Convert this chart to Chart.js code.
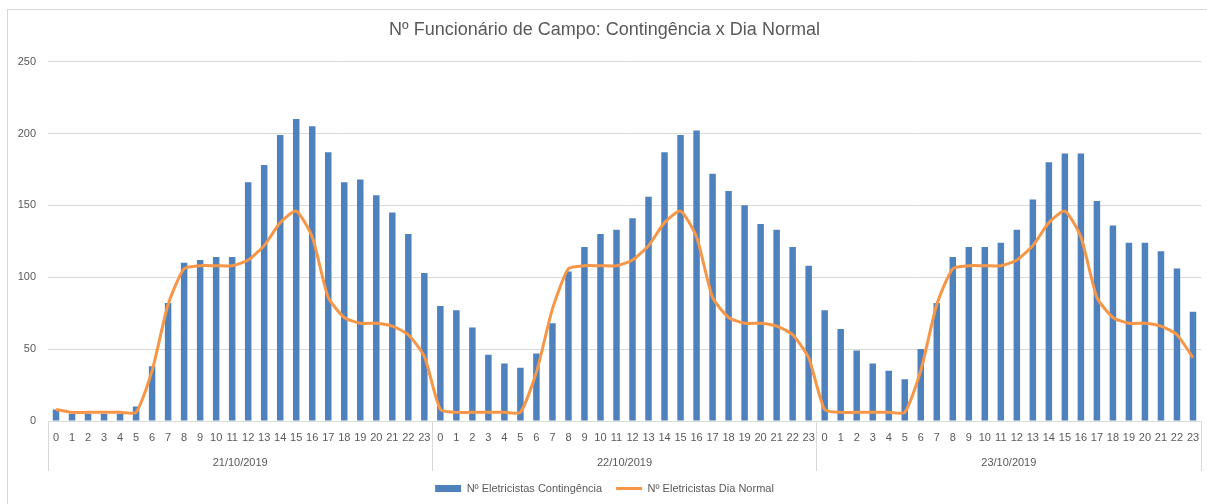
<!DOCTYPE html>
<html>
<head>
<meta charset="utf-8">
<script src="https://cdn.jsdelivr.net/npm/chart.js@4"></script>
<style>
  html, body { margin: 0; padding: 0; background: #ffffff; overflow: hidden; }
  #wrap { position: relative; width: 1207px; height: 504px; }
  #frame { position: absolute; left: 7px; top: 9px; width: 1220px; height: 520px; border: 1px solid #d9d9d9; box-sizing: border-box; pointer-events: none; }
  canvas { position: absolute; left: 0; top: 0; }
</style>
</head>
<body>
<div id="wrap">
  <canvas id="c" width="1207" height="504"></canvas>
  <div id="frame"></div>
</div>
<script>
const hours = ['0','1','2','3','4','5','6','7','8','9','10','11','12','13','14','15','16','17','18','19','20','21','22','23'];
const dates = ['21/10/2019', '22/10/2019', '23/10/2019'];

const contingencia21 = [8, 5, 5, 5, 5, 10, 38, 82, 110, 112, 114, 114, 166, 178, 199, 210, 205, 187, 166, 168, 157, 145, 130, 103];
const contingencia22 = [80, 77, 65, 46, 40, 37, 47, 68, 104, 121, 130, 133, 141, 156, 187, 199, 202, 172, 160, 150, 137, 133, 121, 108];
const contingencia23 = [77, 64, 49, 40, 35, 29, 50, 82, 114, 121, 121, 124, 133, 154, 180, 186, 186, 153, 136, 124, 124, 118, 106, 76];

const normal21 = [8, 6, 6, 6, 6, 6, 35, 81, 106, 108, 108, 108, 112, 122, 138, 146, 128, 86, 72, 68, 68, 66, 60, 45];
const normal22 = [8, 6, 6, 6, 6, 6, 34, 78, 106, 108, 108, 108, 112, 122, 138, 146, 128, 86, 72, 68, 68, 66, 60, 44];
const normal23 = [8, 6, 6, 6, 6, 6, 35, 81, 106, 108, 108, 108, 112, 122, 138, 146, 128, 86, 72, 68, 68, 66, 60, 44];

const seriesNames = ['Nº Eletricistas Contingência', 'Nº Eletricistas Dia Normal'];
const chartTitle = 'Nº Funcionário de Campo: Contingência x Dia Normal';

const labels = [...hours, ...hours, ...hours];
const contingencia = [...contingencia21, ...contingencia22, ...contingencia23];
const normal = [...normal21, ...normal22, ...normal23];

const FONT = "'Liberation Sans', Arial, sans-serif";
const TXT = '#595959';
const GRID = '#d9d9d9';

new Chart(document.getElementById('c'), {
  data: {
    labels: labels,
    datasets: [
      {
        type: 'bar',
        label: seriesNames[0],
        data: contingencia,
        backgroundColor: '#4f81bd',
        borderWidth: 0,
        barPercentage: 0.45,
        categoryPercentage: 0.9,
        xAxisID: 'x',
        order: 2
      },
      {
        type: 'line',
        label: seriesNames[1],
        data: normal,
        borderColor: '#f79646',
        backgroundColor: '#f79646',
        borderWidth: 3,
        pointRadius: 0,
        tension: 0.2,
        xAxisID: 'x',
        order: 1
      }
    ]
  },
  options: {
    responsive: false,
    animation: false,
    layout: { padding: { left: 8, right: 6, top: 10, bottom: 0 } },
    plugins: {
      tooltip: { enabled: false },
      title: {
        display: true,
        text: chartTitle,
        color: TXT,
        font: { family: FONT, size: 18, weight: 'normal' },
        padding: { top: 9, bottom: 21 }
      },
      legend: {
        position: 'bottom',
        maxHeight: 36,
        labels: {
          color: TXT,
          font: { family: FONT, size: 11 },
          usePointStyle: true,
          pointStyleWidth: 26,
          boxHeight: 7,
          boxWidth: 26,
          padding: 14,
          generateLabels: (chart) => chart.data.datasets.map((ds, i) => ({
            text: ds.label,
            fillStyle: i === 0 ? ds.backgroundColor : ds.borderColor,
            strokeStyle: i === 0 ? ds.backgroundColor : ds.borderColor,
            lineWidth: i === 0 ? 0 : 3,
            pointStyle: i === 0 ? 'rect' : 'line',
            fontColor: TXT,
            hidden: false,
            datasetIndex: i
          }))
        }
      }
    },
    scales: {
      y: {
        min: 0,
        max: 250,
        ticks: { stepSize: 50, color: TXT, font: { family: FONT, size: 11 }, padding: 12 },
        grid: { color: GRID, drawTicks: false },
        border: { display: false },
        afterFit: (s) => { s.width = 40; }
      },
      x: {
        type: 'category',
        position: 'bottom',
        weight: 0,
        offset: true,
        ticks: { color: TXT, font: { family: FONT, size: 11 }, autoSkip: false, maxRotation: 0, minRotation: 0, padding: -40 },
        grid: {
          offset: true,
          drawOnChartArea: false,
          tickLength: 50,
          color: (ctx) => (ctx.index === undefined || ctx.index % 24 === 0) ? GRID : 'rgba(0,0,0,0)'
        },
        border: { display: true, color: GRID },
        afterFit: (s) => { s.height = 23; }
      },
      xDate: {
        type: 'category',
        position: 'bottom',
        axis: 'x',
        weight: 1,
        labels: dates,
        offset: true,
        ticks: { color: TXT, font: { family: FONT, size: 11 }, maxRotation: 0, padding: 12 },
        grid: { display: false, drawTicks: false },
        border: { display: false },
        afterFit: (s) => { s.height = 25; }
      }
    }
  }
});
</script>
</body>
</html>
